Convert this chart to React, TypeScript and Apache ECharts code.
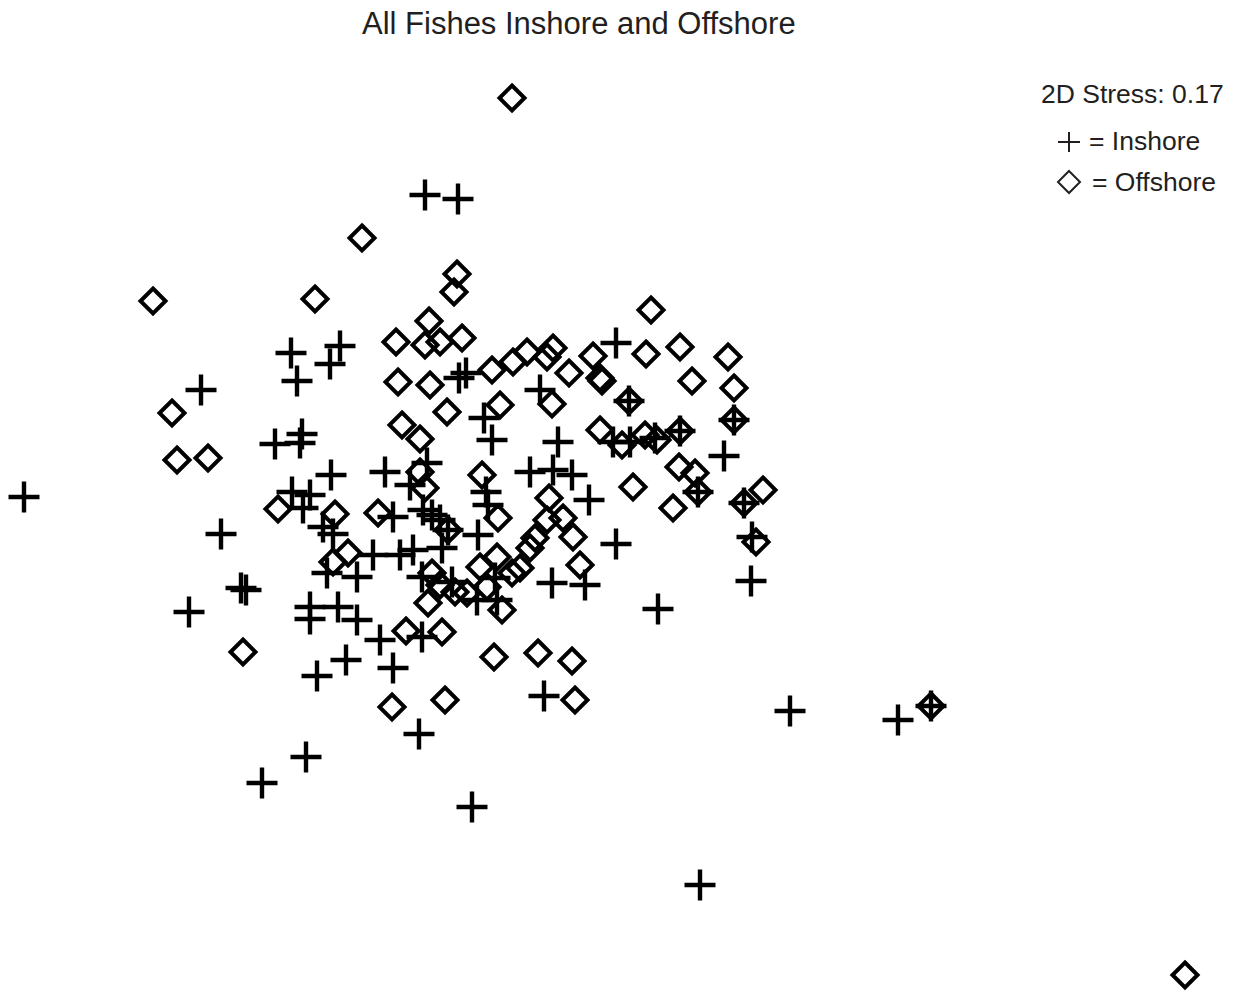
import React, { useEffect, useRef } from "react";
import * as echarts from "echarts";

// NMDS ordination coordinates (screen units: x right, y down)
const inshoreX = [425, 458, 291, 340, 330, 297, 201, 459, 466, 616, 540, 484, 492, 558, 629, 734, 680, 275, 302, 300, 331, 385, 427, 410, 530, 553, 572, 292, 310, 303, 486, 488, 589, 613, 630, 655, 724, 698, 744, 24, 323, 333, 221, 393, 423, 432, 440, 448, 478, 373, 400, 413, 442, 616, 752, 327, 357, 241, 246, 189, 422, 452, 495, 310, 310, 338, 357, 477, 497, 552, 585, 658, 751, 380, 422, 346, 317, 393, 544, 419, 790, 898, 931, 262, 306, 472, 700];
const inshoreY = [195, 199, 353, 346, 364, 381, 390, 378, 373, 343, 390, 418, 440, 442, 401, 420, 431, 444, 434, 443, 475, 472, 463, 485, 472, 470, 475, 492, 495, 508, 492, 505, 500, 442, 442, 438, 456, 492, 503, 497, 527, 534, 534, 517, 510, 515, 520, 530, 535, 555, 555, 550, 548, 544, 537, 573, 577, 588, 590, 612, 577, 582, 578, 607, 619, 607, 620, 600, 600, 583, 585, 609, 581, 640, 637, 660, 676, 668, 696, 734, 711, 720, 706, 783, 757, 807, 885];

const offshoreX = [512, 362, 153, 315, 457, 454, 651, 429, 396, 425, 440, 462, 492, 513, 527, 547, 553, 569, 593, 646, 680, 728, 398, 430, 602, 600, 692, 734, 629, 734, 680, 172, 447, 500, 552, 402, 420, 600, 622, 645, 657, 177, 208, 420, 425, 482, 679, 695, 633, 698, 549, 763, 744, 278, 335, 378, 498, 563, 547, 673, 448, 573, 535, 530, 756, 333, 348, 497, 480, 512, 520, 580, 432, 440, 455, 467, 487, 428, 502, 406, 442, 243, 494, 538, 572, 392, 445, 575, 931, 1185];
const offshoreY = [98, 238, 301, 299, 274, 292, 310, 321, 342, 345, 342, 338, 370, 362, 352, 357, 348, 373, 356, 354, 347, 357, 382, 385, 381, 378, 381, 388, 401, 420, 431, 413, 412, 405, 404, 425, 439, 430, 445, 435, 440, 460, 458, 472, 488, 475, 467, 473, 487, 492, 498, 490, 503, 509, 514, 513, 518, 518, 520, 508, 530, 537, 538, 548, 542, 562, 553, 557, 567, 573, 568, 565, 573, 585, 592, 593, 587, 603, 610, 631, 632, 652, 657, 653, 661, 707, 700, 700, 706, 975];

const titleText = "All Fishes Inshore and Offshore";
const stressText = "2D Stress: 0.17";
const legendLabels = ["= Inshore", "= Offshore"];

const PLUS_PATH = "path://M13.3,0 H17.7 V13.3 H31 V17.7 H17.7 V31 H13.3 V17.7 H0 V13.3 H13.3 Z";
const FONT = "'Liberation Sans', Arial, Helvetica, sans-serif";

export default function App() {
  const ref = useRef<HTMLDivElement>(null);
  useEffect(() => {
    const chart = echarts.init(ref.current!, null, { renderer: "svg" });
    const inshore = inshoreX.map((x, i) => [x, inshoreY[i]]);
    const offshore = offshoreX.map((x, i) => [x, offshoreY[i]]);
    chart.setOption({
      animation: false,
      backgroundColor: "#ffffff",
      title: {
        text: titleText,
        left: 357,
        top: 3,
        textStyle: { fontSize: 31, fontWeight: "normal", color: "#231f20", fontFamily: FONT },
      },
      grid: { left: 0, right: 0, top: 0, bottom: 0 },
      xAxis: { type: "value", min: 0, max: 1239, show: false },
      yAxis: { type: "value", min: 0, max: 993, inverse: true, show: false },
      series: [
        {
          name: "Inshore",
          type: "scatter",
          data: inshore,
          symbol: PLUS_PATH,
          symbolSize: 31,
          itemStyle: { color: "#000", opacity: 1 },
        },
        {
          name: "Offshore",
          type: "scatter",
          data: offshore,
          symbol: "diamond",
          symbolSize: 25,
          itemStyle: { color: "rgba(0,0,0,0)", borderColor: "#000", borderWidth: 4, opacity: 1 },
        },
      ],
      graphic: [
        {
          type: "text",
          left: 1041,
          top: 80,
          style: { text: stressText, fontSize: 26.5, fill: "#231f20", fontFamily: FONT },
        },
        {
          type: "line",
          shape: { x1: 1058, y1: 142, x2: 1080, y2: 142 },
          style: { stroke: "#231f20", lineWidth: 2 },
        },
        {
          type: "line",
          shape: { x1: 1069, y1: 132, x2: 1069, y2: 152 },
          style: { stroke: "#231f20", lineWidth: 2 },
        },
        {
          type: "text",
          left: 1089,
          top: 127,
          style: { text: legendLabels[0], fontSize: 26.5, fill: "#231f20", fontFamily: FONT },
        },
        {
          type: "polygon",
          shape: { points: [[1069, 171], [1080, 182], [1069, 193], [1058, 182]] },
          style: { fill: "none", stroke: "#231f20", lineWidth: 2 },
        },
        {
          type: "text",
          left: 1092,
          top: 168,
          style: { text: legendLabels[1], fontSize: 26.5, fill: "#231f20", fontFamily: FONT },
        },
      ],
    });
    return () => chart.dispose();
  }, []);
  return (
    <div
      ref={ref}
      style={{ position: "absolute", left: 0, top: 0, width: 1239, height: 993 }}
    />
  );
}
